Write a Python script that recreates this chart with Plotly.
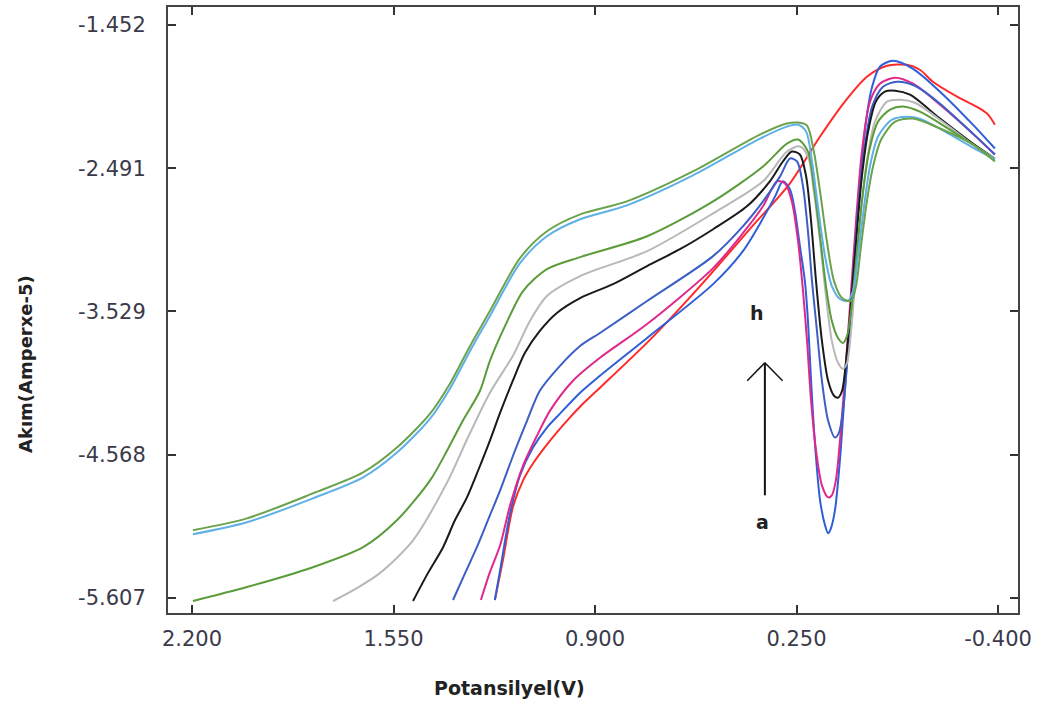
import plotly.graph_objects as go

# ---- data (Potential V, Current A x1e-5) ----
red_v = [1.223, 1.197, 1.165, 1.132, 1.100, 1.045, 0.990, 0.939, 0.884, 0.723, 0.561, 0.400, 0.271, 0.174, 0.094, 0.023, -0.042, -0.106, -0.148, -0.190, -0.268, -0.342, -0.368, -0.390]
red_i = [-5.621, -5.332, -4.949, -4.754, -4.631, -4.465, -4.320, -4.198, -4.082, -3.735, -3.345, -2.930, -2.600, -2.261, -2.008, -1.828, -1.748, -1.741, -1.777, -1.864, -1.972, -2.059, -2.102, -2.175]

a_v = [1.223, 1.206, 1.190, 1.174, 1.142, 1.100, 1.055, 1.013, 0.948, 0.884, 0.732, 0.519, 0.423, 0.358, 0.319, 0.294, 0.271, 0.255, 0.239, 0.223, 0.213, 0.203, 0.190, 0.174, 0.158, 0.148, 0.139, 0.126, 0.110, 0.094, 0.077, 0.061, 0.045, 0.026, 0.006, -0.019, -0.061, -0.126, -0.213, -0.319, -0.390]
a_i = [-5.621, -5.404, -5.188, -4.993, -4.718, -4.516, -4.371, -4.270, -4.118, -3.995, -3.721, -3.331, -3.092, -2.854, -2.695, -2.586, -2.644, -2.803, -3.056, -3.309, -3.598, -4.031, -4.501, -4.898, -5.079, -5.137, -5.101, -4.971, -4.609, -4.104, -3.598, -3.092, -2.586, -2.153, -1.900, -1.755, -1.712, -1.770, -1.936, -2.175, -2.348]

b_v = [1.268, 1.239, 1.206, 1.174, 1.132, 1.087, 1.045, 0.971, 0.884, 0.732, 0.519, 0.423, 0.358, 0.313, 0.287, 0.265, 0.245, 0.229, 0.216, 0.203, 0.187, 0.168, 0.148, 0.136, 0.123, 0.107, 0.090, 0.074, 0.058, 0.039, 0.013, -0.019, -0.068, -0.126, -0.213, -0.319, -0.390]
b_i = [-5.621, -5.419, -5.224, -4.935, -4.646, -4.429, -4.248, -4.031, -3.865, -3.620, -3.215, -2.962, -2.767, -2.586, -2.601, -2.731, -3.020, -3.381, -3.742, -4.176, -4.537, -4.790, -4.877, -4.862, -4.754, -4.393, -3.887, -3.381, -2.875, -2.370, -2.008, -1.878, -1.835, -1.878, -2.030, -2.240, -2.391]

c_v = [1.358, 1.319, 1.281, 1.239, 1.206, 1.158, 1.119, 1.078, 1.013, 0.948, 0.884, 0.732, 0.519, 0.423, 0.358, 0.303, 0.271, 0.248, 0.229, 0.213, 0.200, 0.184, 0.168, 0.148, 0.126, 0.113, 0.100, 0.084, 0.068, 0.052, 0.032, 0.006, -0.029, -0.074, -0.132, -0.213, -0.319, -0.390]
c_i = [-5.621, -5.426, -5.238, -5.007, -4.826, -4.537, -4.320, -4.104, -3.923, -3.779, -3.685, -3.453, -3.128, -2.912, -2.731, -2.550, -2.420, -2.442, -2.623, -2.948, -3.309, -3.670, -4.031, -4.320, -4.443, -4.407, -4.248, -3.815, -3.309, -2.803, -2.370, -2.044, -1.900, -1.864, -1.893, -2.023, -2.240, -2.391]

d_v = [1.487, 1.439, 1.390, 1.352, 1.313, 1.277, 1.239, 1.206, 1.165, 1.126, 1.078, 1.023, 0.948, 0.842, 0.732, 0.626, 0.519, 0.410, 0.336, 0.294, 0.265, 0.239, 0.219, 0.203, 0.187, 0.168, 0.148, 0.129, 0.116, 0.103, 0.087, 0.071, 0.055, 0.039, 0.019, -0.006, -0.035, -0.068, -0.116, -0.213, -0.319, -0.390]
d_i = [-5.628, -5.426, -5.238, -5.043, -4.877, -4.682, -4.465, -4.263, -4.031, -3.829, -3.670, -3.540, -3.432, -3.331, -3.200, -3.078, -2.933, -2.767, -2.586, -2.442, -2.370, -2.391, -2.550, -2.875, -3.309, -3.742, -4.031, -4.140, -4.154, -4.104, -3.815, -3.381, -2.948, -2.550, -2.225, -2.008, -1.936, -1.929, -1.958, -2.131, -2.312, -2.420]

e_v = [1.745, 1.668, 1.594, 1.487, 1.377, 1.310, 1.239, 1.165, 1.110, 1.055, 0.948, 0.732, 0.519, 0.358, 0.281, 0.239, 0.213, 0.194, 0.174, 0.155, 0.136, 0.116, 0.100, 0.087, 0.074, 0.058, 0.042, 0.023, -0.003, -0.042, -0.084, -0.132, -0.229, -0.319, -0.390]
e_i = [-5.628, -5.534, -5.426, -5.188, -4.768, -4.443, -4.118, -3.851, -3.598, -3.417, -3.273, -3.092, -2.818, -2.586, -2.370, -2.333, -2.406, -2.659, -3.020, -3.417, -3.742, -3.901, -3.945, -3.901, -3.670, -3.237, -2.803, -2.442, -2.153, -2.008, -1.994, -2.016, -2.167, -2.319, -2.420]

f_v = [2.197, 2.023, 1.810, 1.648, 1.539, 1.432, 1.377, 1.326, 1.271, 1.239, 1.190, 1.132, 1.055, 0.948, 0.732, 0.519, 0.358, 0.281, 0.245, 0.213, 0.194, 0.174, 0.155, 0.136, 0.116, 0.100, 0.087, 0.074, 0.058, 0.039, 0.016, -0.013, -0.052, -0.094, -0.148, -0.229, -0.319, -0.390]
f_i = [-5.628, -5.527, -5.383, -5.238, -5.043, -4.754, -4.537, -4.320, -4.104, -3.887, -3.634, -3.381, -3.222, -3.135, -2.984, -2.731, -2.478, -2.312, -2.283, -2.370, -2.623, -2.984, -3.345, -3.598, -3.721, -3.757, -3.706, -3.526, -3.164, -2.731, -2.370, -2.153, -2.066, -2.044, -2.081, -2.189, -2.319, -2.427]

g_v = [2.197, 2.023, 1.810, 1.648, 1.539, 1.432, 1.368, 1.303, 1.239, 1.142, 1.055, 0.948, 0.797, 0.584, 0.368, 0.281, 0.245, 0.219, 0.200, 0.181, 0.158, 0.136, 0.110, 0.084, 0.068, 0.052, 0.032, 0.013, -0.013, -0.058, -0.106, -0.148, -0.229, -0.319, -0.390]
g_i = [-5.144, -5.057, -4.884, -4.732, -4.552, -4.306, -4.089, -3.815, -3.562, -3.179, -2.984, -2.861, -2.760, -2.543, -2.276, -2.189, -2.175, -2.225, -2.442, -2.767, -3.128, -3.345, -3.439, -3.453, -3.381, -3.128, -2.767, -2.478, -2.261, -2.138, -2.117, -2.131, -2.225, -2.341, -2.427]

h_v = [2.197, 2.023, 1.810, 1.648, 1.539, 1.432, 1.368, 1.303, 1.239, 1.142, 1.055, 0.948, 0.797, 0.584, 0.368, 0.281, 0.245, 0.216, 0.194, 0.174, 0.152, 0.129, 0.103, 0.074, 0.058, 0.042, 0.023, 0.003, -0.023, -0.068, -0.126, -0.213, -0.319, -0.390]
h_i = [-5.115, -5.029, -4.848, -4.696, -4.516, -4.270, -4.053, -3.779, -3.526, -3.143, -2.948, -2.825, -2.731, -2.514, -2.247, -2.167, -2.160, -2.182, -2.370, -2.659, -3.020, -3.309, -3.432, -3.453, -3.345, -3.056, -2.731, -2.478, -2.283, -2.153, -2.131, -2.203, -2.319, -2.442]

x_ticks = [2.2, 1.55, 0.9, 0.25, -0.4]
x_labels = ["2.200", "1.550", "0.900", "0.250", "-0.400"]
y_ticks = [-5.607, -4.568, -3.529, -2.491, -1.452]
y_labels = ["-5.607", "-4.568", "-3.529", "-2.491", "-1.452"]

series = [
    ("blank", red_v, red_i, "#ff2a2a"),
    ("a", a_v, a_i, "#2f5fd8"),
    ("b", b_v, b_i, "#e0288c"),
    ("c", c_v, c_i, "#3c5fc6"),
    ("d", d_v, d_i, "#1a1a1a"),
    ("e", e_v, e_i, "#b8b8b8"),
    ("f", f_v, f_i, "#5a9c3a"),
    ("g", g_v, g_i, "#5eb0e6"),
    ("h", h_v, h_i, "#6aa34c"),
]

fig = go.Figure()
for name, xv, yv, col in series:
    fig.add_trace(go.Scatter(x=xv, y=yv, mode="lines", name=name,
                             line=dict(color=col, width=2, shape="spline", smoothing=0.8)))

# arrow (a -> h) drawn as lines
arrow_x = 0.352
arrow_tail, arrow_head = -4.862, -3.901
arm_dx, arm_y = 0.057, -4.031

tick_font = dict(family="DejaVu Sans", size=21, color="#3a3a4a")
fig.update_layout(
    width=1048, height=703,
    margin=dict(l=168, r=30, t=5, b=90),
    paper_bgcolor="white", plot_bgcolor="white",
    showlegend=False,
    xaxis=dict(range=[2.2774, -0.4645], autorange=False, tickvals=x_ticks, ticktext=x_labels,
               ticks="inside", ticklen=8, tickwidth=2, tickcolor="#333",
               showline=True, linecolor="#444", linewidth=2, mirror="ticks",
               showgrid=False, zeroline=False, tickfont=tick_font, ticklabelstandoff=6),
    yaxis=dict(range=[-5.715, -1.322], autorange=False, tickvals=y_ticks, ticktext=y_labels,
               ticks="inside", ticklen=8, tickwidth=2, tickcolor="#333",
               showline=True, linecolor="#444", linewidth=2, mirror="ticks",
               showgrid=False, zeroline=False, tickfont=tick_font, ticklabelstandoff=16),
    shapes=[
        dict(type="line", xref="x", yref="y", x0=arrow_x, x1=arrow_x, y0=arrow_tail, y1=arrow_head,
             line=dict(color="#111", width=2)),
        dict(type="line", xref="x", yref="y", x0=arrow_x, x1=arrow_x + arm_dx, y0=arrow_head, y1=arm_y,
             line=dict(color="#111", width=1.5)),
        dict(type="line", xref="x", yref="y", x0=arrow_x, x1=arrow_x - arm_dx, y0=arrow_head, y1=arm_y,
             line=dict(color="#111", width=1.5)),
    ],
    annotations=[
        dict(text="<b>Potansilyel(V)</b>", xref="paper", yref="paper", x=0.402, y=-0.123,
             showarrow=False, xanchor="center", yanchor="middle",
             font=dict(family="DejaVu Sans", size=19, color="#222")),
        dict(text="<b>Akım(Amperxe-5)</b>", xref="paper", yref="paper", x=-0.167, y=0.411,
             showarrow=False, xanchor="center", yanchor="middle", textangle=-90,
             font=dict(family="DejaVu Sans", size=18, color="#222")),
        dict(text="<b>h</b>", x=0.377, y=-3.540, xref="x", yref="y", showarrow=False,
             font=dict(family="DejaVu Sans", size=19, color="#222")),
        dict(text="<b>a</b>", x=0.361, y=-5.057, xref="x", yref="y", showarrow=False,
             font=dict(family="DejaVu Sans", size=19, color="#222")),
    ],
)

fig.write_html("out.html")
